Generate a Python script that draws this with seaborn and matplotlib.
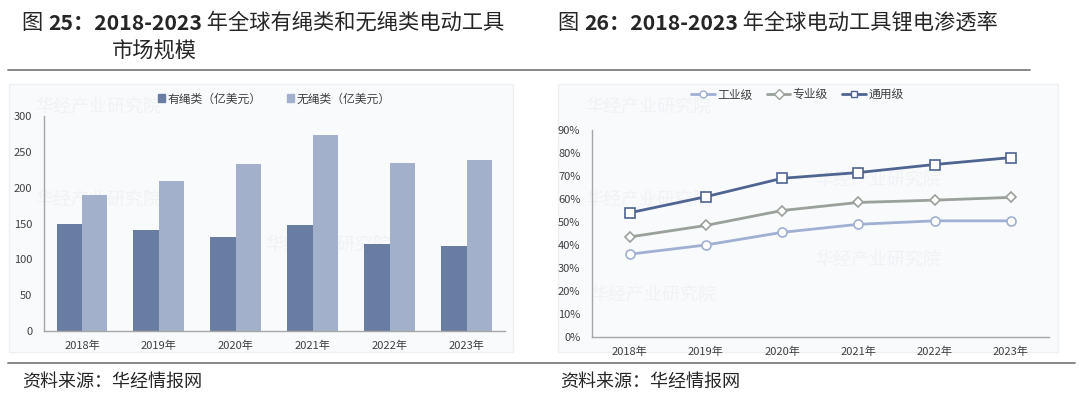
import matplotlib
matplotlib.use("Agg")
import matplotlib.pyplot as plt
import seaborn as sns
import pandas as pd
from matplotlib.patches import Rectangle
from matplotlib.lines import Line2D

# data
years = ["2018年", "2019年", "2020年", "2021年", "2022年", "2023年"]
corded = [150, 141, 131, 148, 121, 118]
cordless = [190, 209, 233, 274, 235, 239]

industrial = [0.36, 0.40, 0.455, 0.49, 0.505, 0.505]
professional = [0.435, 0.485, 0.55, 0.585, 0.595, 0.607]
general = [0.54, 0.61, 0.69, 0.715, 0.75, 0.78]

sns.set_style("white")
plt.rcParams['font.family'] = ['Noto Sans CJK SC', 'DejaVu Sans']

W, H = 1080, 399
fig = plt.figure(figsize=(W/100, H/100), dpi=100)

def px(x0, y0, x1, y1):
    # pixel box (top-left origin) -> figure fraction
    return [x0/W, 1-y1/H, (x1-x0)/W, (y1-y0)/H]

# light panels behind the charts
for x0, x1 in [(9, 513), (558, 1058)]:
    fig.patches.append(Rectangle((x0/W, 1-352/H), (x1-x0)/W, (352-84)/H,
                                 transform=fig.transFigure, facecolor="#f9fafc",
                                 edgecolor="#eef0f4", lw=1, zorder=-2))

# faint watermarks
for x, y in [(35, 112), (35, 205), (265, 250), (585, 112), (585, 205), (590, 300), (815, 185), (815, 265)]:
    fig.text(x/W, 1-y/H, "华经产业研究院", fontsize=13, color="#f0f2f5", zorder=-1)

text_col = "#404040"
axis_col = "#a6a6a6"

# ---- left: bar chart
ax1 = fig.add_axes(px(43.5, 116, 505, 331))
df1 = pd.DataFrame({"year": years * 2,
                    "val": corded + cordless,
                    "kind": ["有绳类（亿美元）"] * 6 + ["无绳类（亿美元）"] * 6})
sns.barplot(data=df1, x="year", y="val", hue="kind", ax=ax1,
            palette=["#697ca2", "#a2b0cb"], width=0.66, gap=0, legend=False,
            saturation=1, edgecolor="none")
ax1.set_xlim(-0.5, 5.5)
ax1.set_ylim(0, 300)
ax1.set_yticks(range(0, 301, 50))
ax1.set_xlabel("")
ax1.set_ylabel("")
h1 = [Rectangle((0, 0), 1, 1, color="#697ca2"), Rectangle((0, 0), 1, 1, color="#a2b0cb")]
ax1.legend(h1, ["有绳类（亿美元）", "无绳类（亿美元）"], loc="lower center",
           bbox_to_anchor=(0.5, 1.0), ncol=2, frameon=False, fontsize=8.5,
           handlelength=0.6, handleheight=0.6, handletextpad=0.2, columnspacing=2.2,
           labelcolor=text_col)

# ---- right: line chart
ax2 = fig.add_axes(px(591.5, 130, 1049, 337))
xs = list(range(6))
series = [("工业级", industrial, "#9fb0d3", "o"),
          ("专业级", professional, "#9aa09a", "D"),
          ("通用级", general, "#4e6491", "s")]
handles = []
for name, vals, col, mk in series:
    sns.lineplot(x=xs, y=vals, ax=ax2, color=col, lw=2, marker=mk,
                 markersize=6.5 if mk != "D" else 5.5, markerfacecolor="white",
                 markeredgecolor=col, markeredgewidth=1.2)
    handles.append(Line2D([0], [0], color=col, lw=2, marker=mk, markersize=5,
                          markerfacecolor="white", markeredgecolor=col))
ax2.set_xlim(-0.5, 5.5)
ax2.set_ylim(0, 0.9)
ax2.set_yticks([i/10 for i in range(10)])
ax2.set_yticklabels([f"{i*10}%" for i in range(10)])
ax2.set_xticks(xs)
ax2.set_xticklabels(years)
ax2.legend(handles, [s[0] for s in series], loc="lower center",
           bbox_to_anchor=(0.45, 1.09), ncol=3, frameon=False, fontsize=8.5,
           handlelength=2.0, handletextpad=0.2, columnspacing=1.2, labelcolor=text_col)

for ax in (ax1, ax2):
    ax.set_facecolor("none")
    sns.despine(ax=ax)
    for s in ("left", "bottom"):
        ax.spines[s].set_color(axis_col)
        ax.spines[s].set_linewidth(1)
    ax.tick_params(axis="both", labelsize=8, colors=text_col, length=0, pad=4)
    ax.tick_params(axis="y", length=4, color=axis_col, direction="out")
    # category boundary ticks on x
    ax.set_xticks([i - 0.5 for i in range(7)], minor=True)
    ax.tick_params(axis="x", which="minor", length=4, color=axis_col)
    ax.tick_params(axis="x", which="major", pad=7)

# ---- titles and separators
fig.lines.append(Line2D([8/W, 1030/W], [1-70/H, 1-70/H], transform=fig.transFigure,
                        color="#7f7f7f", lw=1.3))
fig.lines.append(Line2D([8/W, 1075/W], [1-363/H, 1-363/H], transform=fig.transFigure,
                        color="#7f7f7f", lw=1.3))

def chain(x, y, parts, fs=15.3):
    prev = None
    for s, wgt in parts:
        if prev is None:
            prev = fig.text(x/W, 1-y/H, s, fontsize=fs, fontweight=wgt, va="center")
        else:
            prev = plt.annotate(s, xy=(1, 0.5), xycoords=prev, va="center", ha="left",
                                fontsize=fs, fontweight=wgt)

chain(22, 23, [("图 ", "normal"), ("25：2018-2023", "bold"), (" 年全球有绳类和无绳类电动工具", "normal")])
fig.text(112/W, 1-52/H, "市场规模", fontsize=15.3, va="center")
chain(558, 23, [("图 ", "normal"), ("26：2018-2023", "bold"), (" 年全球电动工具锂电渗透率", "normal")])

fig.text(22/W, 1-382/H, "资料来源：华经情报网", fontsize=13, va="center")
fig.text(560/W, 1-382/H, "资料来源：华经情报网", fontsize=13, va="center")

fig.savefig("out.png", dpi=100)
